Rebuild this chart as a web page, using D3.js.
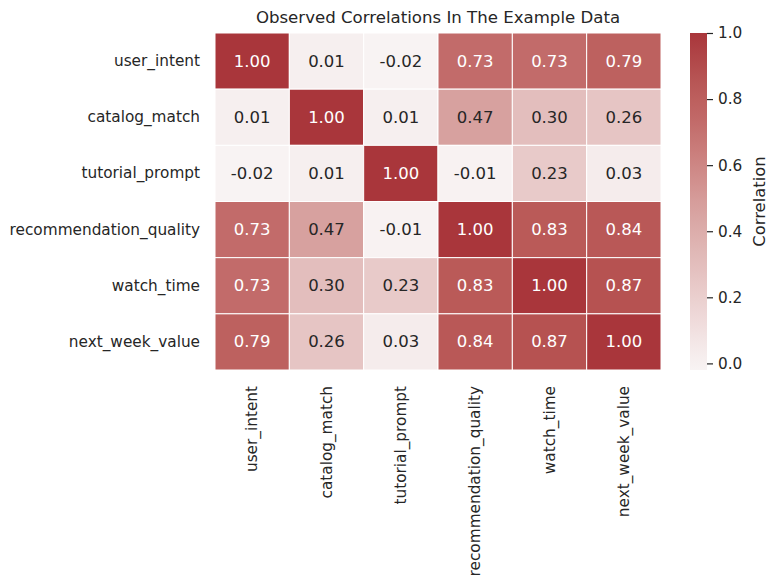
<!DOCTYPE html>
<html>
<head>
<meta charset="utf-8">
<script src="https://cdn.jsdelivr.net/npm/d3@7"></script>
<style>
  body { margin: 0; background: #ffffff; }
  svg { font-family: "DejaVu Sans", sans-serif; }
</style>
</head>
<body>
<svg id="chart" width="777" height="584"></svg>
<script>
const variables = ["user_intent", "catalog_match", "tutorial_prompt", "recommendation_quality", "watch_time", "next_week_value"];
const corrRows = [
  [1.00, 0.01, -0.02, 0.73, 0.73, 0.79],
  [0.01, 1.00, 0.01, 0.47, 0.30, 0.26],
  [-0.02, 0.01, 1.00, -0.01, 0.23, 0.03],
  [0.73, 0.47, -0.01, 1.00, 0.83, 0.84],
  [0.73, 0.30, 0.23, 0.83, 1.00, 0.87],
  [0.79, 0.26, 0.03, 0.84, 0.87, 1.00]
];
const colorbarTicks = [0.0, 0.2, 0.4, 0.6, 0.8, 1.0];
const titleText = "Observed Correlations In The Example Data";
const colorbarLabel = "Correlation";

(function () {
const svg = d3.select("#chart");
const ink = "#262626";
const pLeft = 215, pRight = 661, pTop = 33, pBottom = 370;

const x = d3.scaleBand().domain(variables).range([pLeft, pRight]);
const y = d3.scaleBand().domain(variables).range([pTop, pBottom]);

const vmin = d3.min(corrRows.flat()), vmax = d3.max(corrRows.flat());
const color = d3.scaleLinear()
  .domain([-0.02, 0.0, 0.3, 0.47, 0.73, 0.85, 1.0])
  .range(["#f8f3f3", "#f7f1f1", "#e3bebd", "#d7a19f", "#c26b6a", "#b85655", "#a9363b"])
  .interpolate(d3.interpolateLab)
  .clamp(true);

const cells = [];
corrRows.forEach((row, i) => row.forEach((v, j) => cells.push({r: variables[i], c: variables[j], v})));

svg.append("g").selectAll("rect").data(cells).join("rect")
  .attr("x", d => x(d.c)).attr("y", d => y(d.r))
  .attr("width", x.bandwidth()).attr("height", y.bandwidth())
  .attr("fill", d => color(d.v))
  .attr("stroke", "#ffffff").attr("stroke-width", 1);

function lum(c) {
  const rgb = d3.rgb(c);
  const f = u => { u /= 255; return u <= 0.03928 ? u / 12.92 : Math.pow((u + 0.055) / 1.055, 2.4); };
  return 0.2126 * f(rgb.r) + 0.7152 * f(rgb.g) + 0.0722 * f(rgb.b);
}

const fmt = v => d3.format(".2f")(v).replace("\u2212", "-");

svg.append("g").selectAll("text").data(cells).join("text")
  .attr("x", d => x(d.c) + x.bandwidth() / 2)
  .attr("y", d => y(d.r) + y.bandwidth() / 2)
  .attr("text-anchor", "middle").attr("dominant-baseline", "central")
  .attr("font-size", 16.5)
  .attr("fill", d => lum(color(d.v)) > 0.408 ? ink : "#ffffff")
  .text(d => fmt(d.v));

// y labels
svg.append("g").selectAll("text").data(variables).join("text")
  .attr("x", 200).attr("y", d => y(d) + y.bandwidth() / 2)
  .attr("text-anchor", "end").attr("dominant-baseline", "central")
  .attr("font-size", 15.3).attr("fill", ink)
  .text(d => d);

// x labels
svg.append("g").selectAll("text").data(variables).join("text")
  .attr("transform", d => `translate(${x(d) + x.bandwidth() / 2},386) rotate(-90)`)
  .attr("text-anchor", "end").attr("dominant-baseline", "central")
  .attr("font-size", 15.3).attr("fill", ink)
  .text(d => d);

// title
svg.append("text")
  .attr("x", (pLeft + pRight) / 2).attr("y", 23)
  .attr("text-anchor", "middle")
  .attr("font-size", 16.6).attr("fill", ink)
  .text(titleText);

// colorbar
const cbX = 690, cbW = 17;
const cbScale = d3.scaleLinear().domain([vmin, vmax]).range([pBottom, pTop]);
const defs = svg.append("defs");
const grad = defs.append("linearGradient").attr("id", "cbgrad")
  .attr("x1", 0).attr("y1", 1).attr("x2", 0).attr("y2", 0);
d3.range(0, 1.0001, 0.05).forEach(t => {
  grad.append("stop").attr("offset", t).attr("stop-color", color(vmin + t * (vmax - vmin)));
});
svg.append("rect").attr("x", cbX).attr("y", pTop).attr("width", cbW).attr("height", pBottom - pTop)
  .attr("fill", "url(#cbgrad)");

const cbAxis = d3.axisRight(cbScale).tickValues(colorbarTicks).tickFormat(d3.format(".1f")).tickSize(6).tickPadding(5);
const cbg = svg.append("g").attr("transform", `translate(${cbX + cbW},0)`).call(cbAxis);
cbg.select(".domain").remove();
cbg.selectAll(".tick line").attr("stroke", ink).attr("stroke-width", 1.2);
cbg.selectAll(".tick text").attr("fill", ink).attr("font-size", 15.3).attr("font-family", "DejaVu Sans, sans-serif");

svg.append("text")
  .attr("transform", `translate(759,${(pTop + pBottom) / 2}) rotate(-90)`)
  .attr("text-anchor", "middle").attr("dominant-baseline", "central")
  .attr("font-size", 16.4).attr("fill", ink)
  .text(colorbarLabel);
})();
</script>
</body>
</html>
